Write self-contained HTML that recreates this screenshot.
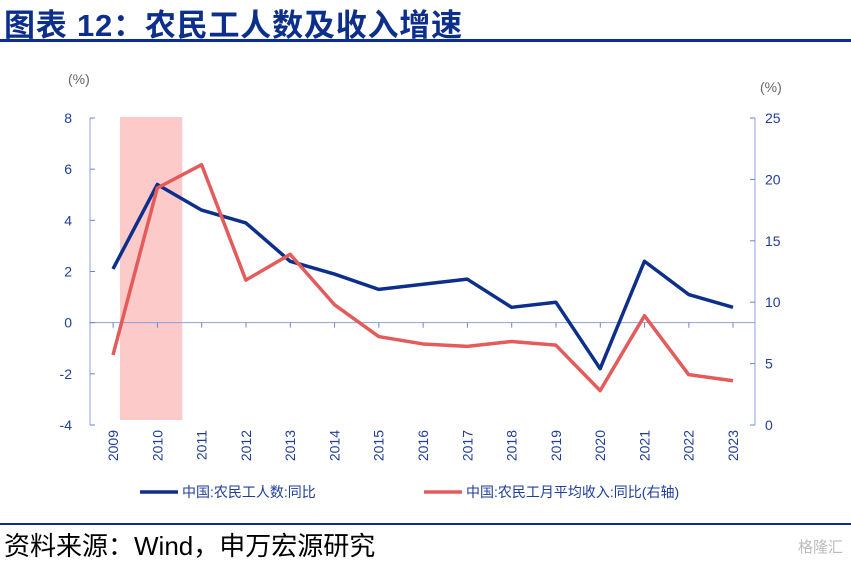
<!DOCTYPE html>
<html><head><meta charset="utf-8"><style>
body{margin:0;background:#fff;width:851px;height:561px;overflow:hidden;font-family:"Liberation Sans","Noto Sans CJK SC",sans-serif;position:relative}
#title{position:absolute;left:4px;top:0px;font-size:31px;font-weight:bold;color:#0d2f8c;letter-spacing:0.8px;white-space:nowrap}
#tline{position:absolute;left:0;top:39px;width:851px;height:3px;background:#0d2f8c}
#fline{position:absolute;left:0;top:523px;width:851px;height:2px;background:#0d2f8c}
#foot{position:absolute;left:4px;top:526px;font-size:26px;color:#000;white-space:nowrap}
#wm{position:absolute;right:8px;top:536px;font-size:15px;color:#bbb}
svg{position:absolute;left:0;top:0}
</style></head><body>
<div id="title">图表 12：农民工人数及收入增速</div>
<div id="tline"></div>
<svg id="chart" width="851" height="561"></svg>
<div id="fline"></div>
<div id="foot">资料来源：Wind，申万宏源研究</div>
<div id="wm">格隆汇</div>
<script>
const years=["2009","2010","2011","2012","2013","2014","2015","2016","2017","2018","2019","2020","2021","2022","2023"];
const workers=[2.1,5.4,4.4,3.9,2.4,1.9,1.3,1.5,1.7,0.6,0.8,-1.8,2.4,1.1,0.6];
const income=[5.7,19.3,21.2,11.8,13.9,9.8,7.2,6.6,6.4,6.8,6.5,2.8,8.9,4.1,3.6];
const leftTicks=[-4,-2,0,2,4,6,8];
const rightTicks=[0,5,10,15,20,25];
const shadeRange=["2009","2010"];
const NS="http://www.w3.org/2000/svg";
const svg=document.getElementById('chart');
const L=90,R=755,T=118,B=425;
const x0=113,x1=733;
const xs=i=>x0+(x1-x0)*i/(years.length-1);
const yl=v=>B-(v+4)/12*(B-T);
const yr=v=>B-v/25*(B-T);
function mk(t,a,p){const e=document.createElementNS(NS,t);for(const k in a)e.setAttribute(k,a[k]);(p||svg).appendChild(e);return e;}
const BL="#1f3d99";
const si=years.indexOf(shadeRange[0]),sj=years.indexOf(shadeRange[1]);
let sh=mk('rect',{x:xs(si)+7,y:T-1,width:xs(sj)-xs(si)+18,height:B-T-4,fill:'#fdcaca'});


let a1=mk('line',{x1:L,y1:T,x2:L,y2:B,stroke:'#8aa0d8','stroke-width':1});


let a2=mk('line',{x1:R,y1:T,x2:R,y2:B,stroke:'#8aa0d8','stroke-width':1});


let a3=mk('line',{x1:L,y1:yl(0),x2:R,y2:yl(0),stroke:'#8aa0d8','stroke-width':1});


leftTicks.forEach(v=>{
 mk('line',{x1:L,y1:yl(v),x2:L+5,y2:yl(v),stroke:'#6a84c8'});
 let t=mk('text',{x:L-18,y:yl(v)+5,'text-anchor':'end','font-size':14,fill:BL});t.textContent=v;
 
 
});
rightTicks.forEach(v=>{
 mk('line',{x1:R-5,y1:yr(v),x2:R,y2:yr(v),stroke:'#6a84c8'});
 let t=mk('text',{x:R+10,y:yr(v)+5,'font-size':14,fill:BL});t.textContent=v;
 
 
});
years.forEach((y,i)=>{
 const xm=(xs(i)+(i<years.length-1?xs(i+1):xs(i)+44))/2;
 mk('line',{x1:xm-22,y1:yl(0),x2:xm-22,y2:yl(0)+5,stroke:'#6a84c8'});
 let t=mk('text',{transform:`translate(${xs(i)+5},${B+5}) rotate(-90)`,'text-anchor':'end','font-size':14,fill:BL});t.textContent=y;
 
 
});
let u1=mk('text',{x:68,y:84,'font-size':14,fill:'#666'});u1.textContent='(%)';


let u2=mk('text',{x:760,y:92,'font-size':14,fill:'#666'});u2.textContent='(%)';


let p1=mk('polyline',{points:workers.map((v,i)=>xs(i)+','+yl(v)).join(' '),fill:'none',stroke:'#0d2f8c','stroke-width':3.5,'stroke-linejoin':'round'});


let p2=mk('polyline',{points:income.map((v,i)=>xs(i)+','+yr(v)).join(' '),fill:'none',stroke:'#e45b5b','stroke-width':3.5,'stroke-linejoin':'round'});


let g1=mk('g',{});
mk('line',{x1:140,y1:492,x2:178,y2:492,stroke:'#0d2f8c','stroke-width':3.5},g1);
let lt1=mk('text',{x:182,y:497,'font-size':14,fill:BL},g1);lt1.textContent='中国:农民工人数:同比';
let g2=mk('g',{});
mk('line',{x1:424,y1:492,x2:462,y2:492,stroke:'#e45b5b','stroke-width':3.5},g2);
let lt2=mk('text',{x:466,y:497,'font-size':14,fill:BL},g2);lt2.textContent='中国:农民工月平均收入:同比(右轴)';
</script>
</body></html>
